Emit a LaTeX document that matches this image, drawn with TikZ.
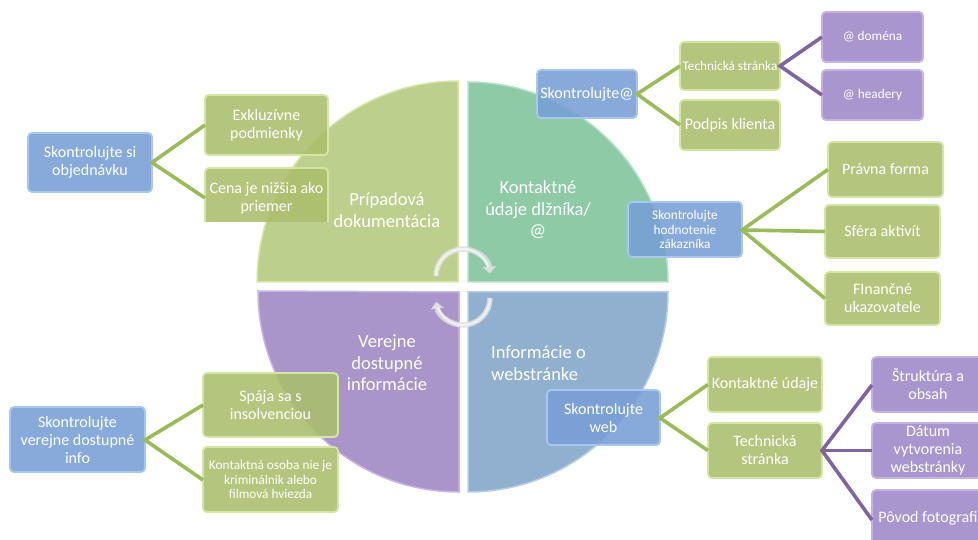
\documentclass[tikz,border=0pt]{standalone}
\usepackage{fontspec}
\setmainfont{Carlito}
\usetikzlibrary{arrows.meta}
\definecolor{gbox}{HTML}{AABF6C}
\definecolor{gboxb}{HTML}{D3E6A3}
\definecolor{bbox}{HTML}{789FD6}
\definecolor{bboxb}{HTML}{A9C7EE}
\definecolor{pbox}{HTML}{9E88C9}
\definecolor{pboxb}{HTML}{C5B3E6}
\definecolor{qtl}{HTML}{B9CD86}
\definecolor{qtlb}{HTML}{D6E8A8}
\definecolor{qtr}{HTML}{88C8A2}
\definecolor{qtrb}{HTML}{B2E3C6}
\definecolor{qbl}{HTML}{A590C8}
\definecolor{qblb}{HTML}{C8B6E6}
\definecolor{qbr}{HTML}{8CABCD}
\definecolor{qbrb}{HTML}{B4CDE8}
\definecolor{gline}{HTML}{9BBB59}
\definecolor{pline}{HTML}{8064A2}
\tikzset{
  boxbase/.style={rounded corners=4pt, line width=1.8pt, fill opacity=0.88},
  gb/.style={boxbase, fill=gbox, draw=gboxb},
  bb/.style={boxbase, fill=bbox, draw=bboxb},
  pb/.style={boxbase, fill=pbox, draw=pboxb},
  txt/.style={text=white, align=center, font=\fontsize{16}{18}\selectfont, inner sep=0pt},
  stxt/.style={text=white, align=center, font=\fontsize{13.3}{14.5}\selectfont, inner sep=0pt},
  qtxt/.style={text=white, align=center, font=\fontsize{18.5}{21.5}\selectfont, inner sep=0pt},
  gl/.style={draw=gline, line width=3.6pt},
  pl/.style={draw=pline, line width=3.6pt},
  quad/.style={line width=1.5pt, fill opacity=0.95},
  carrow/.style={line width=5.5pt, draw=white!75!gray, draw opacity=0.85, -{Triangle[length=7pt,width=13pt]}},
  carrowin/.style={line width=2.5pt, draw=white, draw opacity=0.6}
}
\begin{document}
\begin{tikzpicture}[x=1pt,y=-1pt]
\useasboundingbox (0,0) rectangle (978,540);
\clip (0,0) rectangle (978,540);
\fill[white] (0,0) rectangle (978,540);

% quadrants
\path[quad, fill=qtl, draw=qtlb] (458,282) -- (257,282) arc[start angle=180, end angle=270, radius=201] -- cycle;
\path[quad, fill=qtr, draw=qtrb] (468,282) -- (468,82) arc[start angle=270, end angle=360, radius=200] -- cycle;
\path[quad, fill=qbl, draw=qblb] (459,292) -- (459,492) arc[start angle=90, end angle=180, radius=201] -- cycle;
\path[quad, fill=qbr, draw=qbrb] (468,292) -- (668,292) arc[start angle=0, end angle=90, radius=200] -- cycle;

\node[qtxt] (q1) at (387,210) {Prípadová\\dokumentácia};
\node[qtxt] (q2) at (538,210) {Kontaktné\\údaje dlžníka/\\@};
\node[qtxt] (q3) at (387,363) {Verejne\\dostupné\\informácie};
\node[qtxt, align=left, anchor=west] (q4) at (491,363) {Informácie o\\webstránke};

% circular arrows
\draw[carrow] (436,276) arc[start angle=180, end angle=355, radius=27];
\draw[carrowin] (436,276) arc[start angle=180, end angle=340, radius=27];
\draw[carrow] (490,298) arc[start angle=0, end angle=172, radius=27];
\draw[carrowin] (490,298) arc[start angle=0, end angle=160, radius=27];

% ---------- top-left group
\path[bb] (28,133) rectangle (152,192);
\node[txt] (a0) at (90,162.5) {Skontrolujte si\\objednávku};
\path[gb] (205,95) rectangle (328,155);
\node[txt] (a1) at (266.5,125) {Exkluzívne\\podmienky};
\begin{scope}
\clip (190,160) rectangle (340,222);
\path[gb] (205,168) rectangle (328,229);
\end{scope}
\node[txt] (a2) at (266.5,198) {Cena je nižšia ako\\priemer};
\coordinate (a0r) at (152,162.5);
\coordinate (a1l) at (205,125);
\coordinate (a2l) at (205,198);
\draw[gl] (a1l) -- (a0r) -- (a2l);

% ---------- top-right group
\path[bb] (537,70) rectangle (637,118);
\node[txt] (b0) at (587,94) {Skontrolujte@};
\path[gb] (680,42) rectangle (780,90);
\node[stxt] (b1) at (730,66) {Technická stránka};
\path[gb] (680,100) rectangle (780,150);
\node[txt] (b2) at (730,125) {Podpis klienta};
\path[pb] (822,12) rectangle (923,62);
\node[stxt] (b3) at (872.5,37) {@ doména};
\path[pb] (822,70) rectangle (923,120);
\node[stxt] (b4) at (872.5,95) {@ headery};
\coordinate (b0r) at (637,94);
\coordinate (b1l) at (680,66);
\coordinate (b2l) at (680,125);
\coordinate (b1r) at (780,66);
\coordinate (b3l) at (822,37);
\coordinate (b4l) at (822,95);
\draw[gl] (b1l) -- (b0r) -- (b2l);
\draw[pl] (b3l) -- (b1r) -- (b4l);

% ---------- right-middle group
\path[bb] (628,202) rectangle (742,257);
\node[stxt] (c0) at (685,229.5) {Skontrolujte\\hodnotenie\\zákazníka};
\path[gb] (828,142) rectangle (943,197);
\node[txt] (c1) at (885.5,169.5) {Právna forma};
\path[gb] (825,205) rectangle (940,258);
\node[txt] (c2) at (882.5,231.5) {Sféra aktivít};
\path[gb] (825,272) rectangle (940,325);
\node[txt] (c3) at (882.5,298.5) {FInančné\\ukazovatele};
\coordinate (c0r) at (742,230);
\coordinate (c1l) at (828,169.5);
\coordinate (c2l) at (825,231.5);
\coordinate (c3l) at (825,298.5);
\draw[gl] (c1l) -- (c0r) -- (c3l);
\draw[gl] (c0r) -- (c2l);

% ---------- bottom-left group
\path[bb] (10,407) rectangle (145,472);
\node[txt] (d0) at (77.5,439.5) {Skontrolujte\\verejne dostupné\\info};
\path[gb] (203,373) rectangle (338,437);
\node[txt] (d1) at (270.5,405) {Spája sa s\\insolvenciou};
\path[gb] (203,447) rectangle (338,512);
\node[stxt] (d2) at (270.5,479.5) {Kontaktná osoba nie je\\kriminálnik alebo\\filmová hviezda};
\coordinate (d0r) at (145,440);
\coordinate (d1l) at (203,405);
\coordinate (d2l) at (203,480);
\draw[gl] (d1l) -- (d0r) -- (d2l);

% ---------- bottom-right group
\path[bb] (547,390) rectangle (660,445);
\node[txt] (e0) at (603.5,417.5) {Skontrolujte\\web};
\path[gb] (708,357) rectangle (822,412);
\node[txt] (e1) at (765,384.5) {Kontaktné údaje};
\path[gb] (708,423) rectangle (822,478);
\node[txt] (e2) at (765,450.5) {Technická\\stránka};
\path[pb] (872,357) rectangle (988,412);
\node[txt] (e3) at (928,384.5) {Štruktúra a\\obsah};
\path[pb] (872,423) rectangle (988,478);
\node[txt] (e4) at (928,450.5) {Dátum\\vytvorenia\\webstránky};
\path[pb] (872,490) rectangle (988,550);
\node[txt] (e5) at (928,518) {Pôvod fotografi};
\coordinate (e0r) at (660,418);
\coordinate (e1l) at (708,384.5);
\coordinate (e2l) at (708,450.5);
\coordinate (e2r) at (822,450.5);
\coordinate (e3l) at (872,385);
\coordinate (e4l) at (872,450.5);
\coordinate (e5l) at (872,520);
\draw[gl] (e1l) -- (e0r) -- (e2l);
\draw[pl] (e3l) -- (e2r) -- (e5l);
\draw[pl] (e2r) -- (e4l);
\end{tikzpicture}
\end{document}
